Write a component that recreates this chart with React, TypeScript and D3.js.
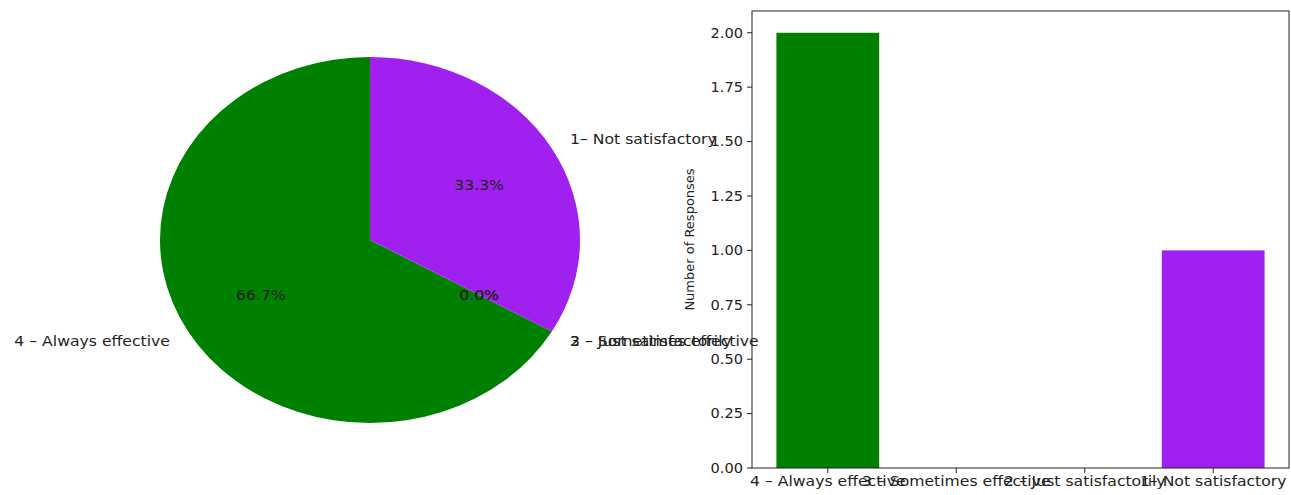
import React from "react";
import * as d3 from "d3";

const categories = ["4 – Always effective", "3 – Sometimes effective", "2 – Just satisfactorily", "1– Not satisfactory"];
const counts = [2, 0, 0, 1];
const colors = ["#008000", "#ff7f0e", "#1f77b4", "#a020f0"];
const yTicks = [0, 0.25, 0.5, 0.75, 1.0, 1.25, 1.5, 1.75, 2.0];

const W = 1291;
const H = 495;
const FONT = "'DejaVu Sans', sans-serif";
const FS = 13.5;
const SX = 1.16;

function T(props: { x: number; y: number; anchor: string; baseline: string; children: React.ReactNode; sx?: number }) {
  return (
    <g transform={`translate(${props.x},${props.y}) scale(${props.sx ?? SX},1)`}>
      <text x={0} y={0} textAnchor={props.anchor as any} dominantBaseline={props.baseline as any} fontFamily={FONT} fontSize={FS} fill="#222">
        {props.children}
      </text>
    </g>
  );
}

function Pie() {
  const cx = 370, cy = 240, rx = 210, ry = 183;
  const total = d3.sum(counts);
  const angles: { a0: number; a1: number }[] = [];
  let start = 90;
  counts.forEach((c) => {
    const sweep = (c / total) * 360;
    angles.push({ a0: start, a1: start + sweep });
    start += sweep;
  });
  const toPt = (deg: number, r: number) => {
    const t = (deg * Math.PI) / 180;
    return [cx + Math.cos(t) * rx * r, cy - Math.sin(t) * ry * r];
  };
  return (
    <g>
      {angles.map((a, i) => {
        if (counts[i] === 0) return null;
        const arc = d3.arc()({
          innerRadius: 0,
          outerRadius: 1,
          startAngle: ((90 - a.a1) * Math.PI) / 180,
          endAngle: ((90 - a.a0) * Math.PI) / 180,
        } as any) as string;
        return (
          <path key={i} d={arc} fill={colors[i]} transform={`translate(${cx},${cy}) scale(${rx},${ry})`} />
        );
      })}
      {angles.map((a, i) => {
        const mid = (a.a0 + a.a1) / 2;
        const [lx, ly] = toPt(mid, 1.1);
        const [px, py] = toPt(mid, 0.6);
        const anchor = Math.cos((mid * Math.PI) / 180) < 0 ? "end" : "start";
        return (
          <g key={i}>
            <T x={lx} y={ly} anchor={anchor} baseline="central">{categories[i]}</T>
            <T x={px} y={py} anchor="middle" baseline="central">{((counts[i] / total) * 100).toFixed(1) + "%"}</T>
          </g>
        );
      })}
    </g>
  );
}

function Bars() {
  const left = 752, right = 1289, top = 11, bottom = 468;
  const x = d3.scaleLinear().domain([-0.59, 3.59]).range([left, right]);
  const y = d3.scaleLinear().domain([0, 2.1]).range([bottom, top]);
  const bw = 0.8;
  return (
    <g>
      {counts.map((c, i) => (
        <rect key={i} x={x(i - bw / 2)} width={x(i + bw / 2) - x(i - bw / 2)} y={y(c)} height={y(0) - y(c)} fill={colors[i]} />
      ))}
      <rect x={left} y={top} width={right - left} height={bottom - top} fill="none" stroke="#222" strokeWidth={1} />
      {yTicks.map((t) => (
        <g key={t}>
          <line x1={left - 5} x2={left} y1={y(t)} y2={y(t)} stroke="#222" />
          <T x={left - 9} y={y(t)} anchor="end" baseline="central" sx={1.08}>{t.toFixed(2)}</T>
        </g>
      ))}
      {categories.map((c, i) => (
        <g key={i}>
          <line x1={x(i)} x2={x(i)} y1={bottom} y2={bottom + 5} stroke="#222" />
          <T x={x(i)} y={bottom + 8} anchor="middle" baseline="hanging">{c}</T>
        </g>
      ))}
      <text
        transform={`translate(689,${(top + bottom) / 2}) rotate(-90)`}
        textAnchor="middle"
        dominantBaseline="central"
        fontFamily={FONT}
        fontSize={13}
        fill="#222"
      >
        Number of Responses
      </text>
    </g>
  );
}

export default function App() {
  return (
    <svg width={W} height={H} style={{ position: "absolute", left: 0, top: 0, background: "#fff" }}>
      <rect width={W} height={H} fill="#fff" />
      <Pie />
      <Bars />
    </svg>
  );
}
